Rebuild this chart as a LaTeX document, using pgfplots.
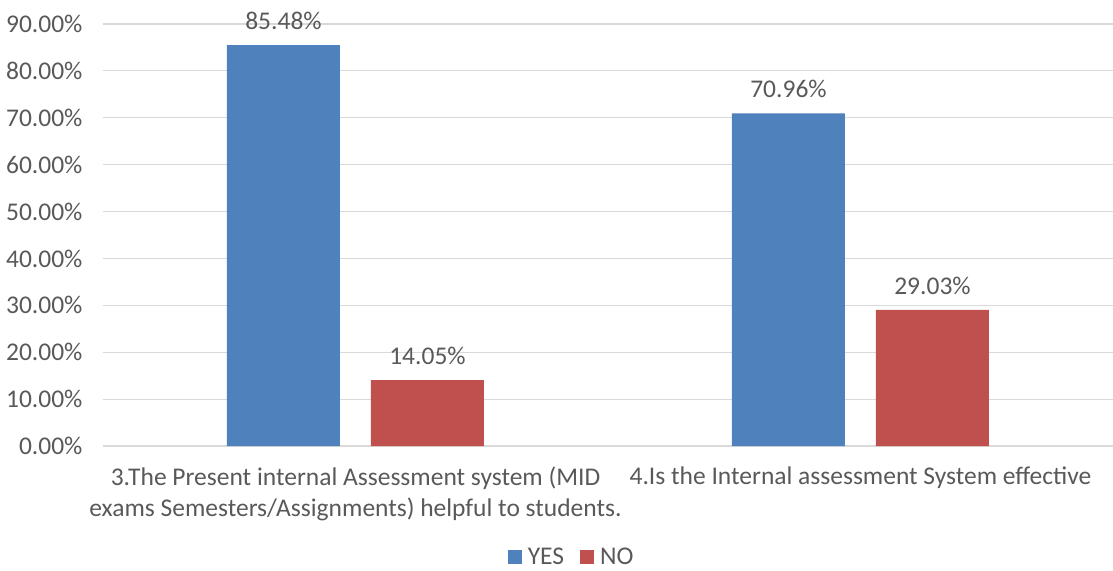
\documentclass[border=0pt]{standalone}
\usepackage{pgfplots}
\pgfplotsset{compat=1.18}
\usepackage{fontspec}
\setmainfont{Carlito}
\definecolor{cblue}{HTML}{4F81BD}
\definecolor{cred}{HTML}{C0504D}
\definecolor{ctext}{HTML}{595959}
\definecolor{cgrid}{HTML}{D9D9D9}
\begin{document}
\begin{tikzpicture}
\path[use as bounding box] (-103pt,-124pt) rectangle (1010pt,446pt);
\begin{axis}[
  at={(0pt,0pt)}, anchor=south west,
  scale only axis, width=1010pt, height=422pt,
  xmin=-0.5, xmax=1.5, ymin=0, ymax=90,
  enlargelimits=false, clip=false,
  ytick={0,10,...,90},
  yticklabels={0.00\%,10.00\%,20.00\%,30.00\%,40.00\%,50.00\%,60.00\%,70.00\%,80.00\%,90.00\%},
  xtick={0,1},
  xticklabels={{3.The Present internal Assessment system (MID\\exams Semesters/Assignments) helpful to students.},{4.Is the Internal assessment System effective}},
  xticklabel style={align=center, yshift=-13pt},
  yticklabel style={xshift=-17pt},
  ticklabel style={font=\fontsize{25.5}{31}\selectfont, text=ctext},
  ymajorgrids, grid style={cgrid, line width=1.2pt},
  axis line style={draw=none}, major tick style={draw=none},
  ybar, bar width=113pt,
  point meta=explicit symbolic,
  nodes near coords,
  nodes near coords style={font=\fontsize{25.5}{31}\selectfont, text=ctext, yshift=12pt},
  legend style={at={(0.464,-0.262)}, anchor=center, draw=none, legend columns=2,
    font=\fontsize{25.5}{31}\selectfont, text=ctext, inner sep=0pt,
    nodes={inner ysep=1pt},
    /tikz/every odd column/.append style={column sep=4pt},
    /tikz/every even column/.append style={column sep=14pt}},
  legend image code/.code={\fill[#1] (0pt,-7pt) rectangle (14pt,7pt);},
]
\addplot[fill=cblue, draw=none, bar shift=-72pt] coordinates {(0,85.48) [85.48\%] (1,70.96) [70.96\%]};
\addplot[fill=cred, draw=none, bar shift=72pt] coordinates {(0,14.05) [14.05\%] (1,29.03) [29.03\%]};
\legend{YES,NO}
\end{axis}
\end{tikzpicture}
\end{document}
